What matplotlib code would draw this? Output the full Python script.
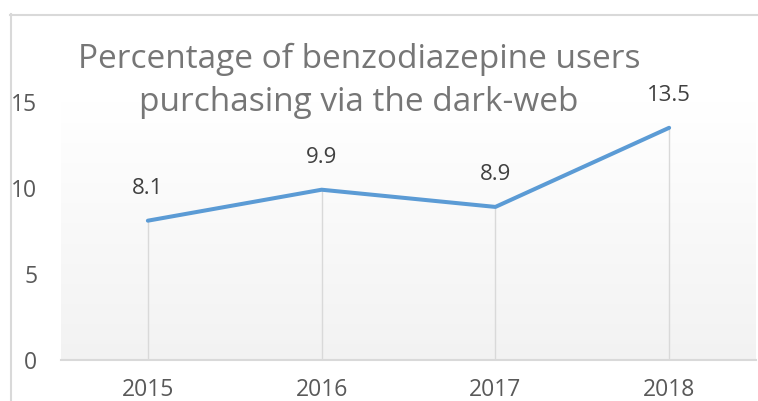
import numpy as np
import matplotlib
matplotlib.use("Agg")
from matplotlib import pyplot as plt
from matplotlib.lines import Line2D

# chart data
years = ["2015", "2016", "2017", "2018"]
pct_darkweb = [8.1, 9.9, 8.9, 13.5]
y_ticks = [0, 5, 10, 15]

plt.rcParams['font.family'] = ['Open Sans', 'DejaVu Sans']

W, H = 758, 401
fig = plt.figure(figsize=(W / 100, H / 100), dpi=100)
fig.patch.set_facecolor("white")

# plot area in pixel terms -> figure fractions
left, right, top, bottom = 61, 756, 102, 360
ax = fig.add_axes([left / W, 1 - bottom / H, (right - left) / W, (bottom - top) / H])

# light grey vertical gradient behind the plot
grad = np.linspace(1.0, 0.95, 256).reshape(-1, 1)
ax.imshow(np.dstack([grad, grad, grad]), extent=[0, 1, 0, 1], transform=ax.transAxes,
          aspect="auto", zorder=0, interpolation="bicubic")

x = np.arange(len(years))
ax.vlines(x, 0, pct_darkweb, color="#d9d9d9", lw=1, zorder=1)
ax.plot(x, pct_darkweb, color="#5b9bd5", lw=2.9, solid_capstyle="round",
        solid_joinstyle="round", zorder=3)

for xi, v in zip(x, pct_darkweb):
    ax.annotate("{}".format(v), (xi, v), xytext=(0, 23.5), textcoords="offset points",
                ha="center", va="center", fontsize=16, color="#404040")

ax.set_xlim(-0.5, len(years) - 0.5)
ax.set_ylim(0, 15)
ax.set_xticks(x)
ax.set_xticklabels(years)
ax.set_yticks(y_ticks)
ax.tick_params(axis="both", length=0, labelsize=16.5, labelcolor="#595959")
ax.tick_params(axis="y", pad=17)
ax.tick_params(axis="x", pad=13)

for s in ["top", "right", "left"]:
    ax.spines[s].set_visible(False)
ax.spines["bottom"].set_color("#d9d9d9")
ax.spines["bottom"].set_linewidth(1.5)

# title, two lines, sits over the plot area
fig.text(359 / W, 1 - 68 / H, "Percentage of benzodiazepine users", ha="center",
         va="baseline", fontsize=24, color="#767676")
fig.text(359 / W, 1 - 111 / H, "purchasing via the dark-web", ha="center",
         va="baseline", fontsize=24, color="#767676")

# chart border (left and top edges visible)
fig.add_artist(Line2D([10.5 / W, 10.5 / W], [0, 1 - 14 / H], color="#d9d9d9", lw=1.5))
fig.add_artist(Line2D([10 / W, 1], [1 - 14.5 / H, 1 - 14.5 / H], color="#d9d9d9", lw=1.5))

fig.savefig("out.png", dpi=100)
